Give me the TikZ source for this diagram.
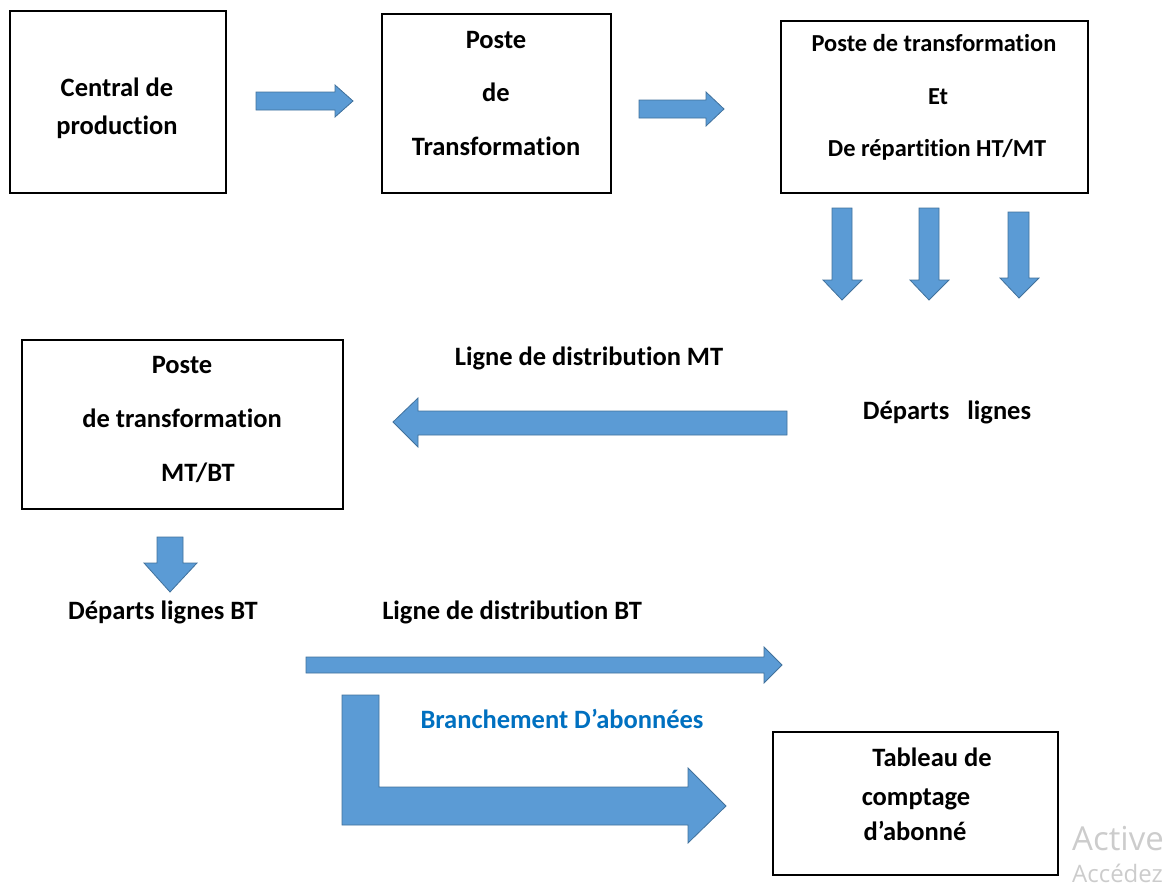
\documentclass[tikz,border=0pt]{standalone}
\usepackage{fontspec}
\setmainfont{Carlito}[Ligatures=NoCommon]
\newfontfamily\wmfont{Open Sans}
\definecolor{arrfill}{HTML}{5B9BD5}
\definecolor{arrline}{HTML}{41719C}
\definecolor{bluetxt}{HTML}{0070C0}
\definecolor{wmgray}{HTML}{CCCCCC}
\begin{document}
\begin{tikzpicture}[x=1pt,y=-1pt,
  box/.style={draw=black,line width=1.2pt},
  lbl/.style={font=\fontsize{26.5}{27}\selectfont\bfseries,inner sep=0pt,anchor=base},
  lbs/.style={font=\fontsize{24.4}{25}\selectfont\bfseries,inner sep=0pt,anchor=base},
  blk/.style={fill=arrfill,draw=arrline,line width=0.8pt,line join=miter}]
\useasboundingbox (0,0) rectangle (1164,886);
% boxes
\node[box,minimum width=216pt,minimum height=182pt,inner sep=0pt] (b1) at (118,102) {};
\node[box,minimum width=229pt,minimum height=179pt,inner sep=0pt] (b2) at (496.5,103.5) {};
\node[box,minimum width=307pt,minimum height=172pt,inner sep=0pt] (b3) at (934.5,107) {};
\node[box,minimum width=321pt,minimum height=169pt,inner sep=0pt] (b4) at (182.5,424.5) {};
\node[box,minimum width=285pt,minimum height=143pt,inner sep=0pt] (b5) at (915.5,803.5) {};
% texts
\node[lbl] (t1a) at (117,96) {Central de};
\node[lbl] (t1b) at (117,134) {production};
\node[lbl] (t2a) at (496,48) {Poste};
\node[lbl] (t2b) at (496,101) {de};
\node[lbl] (t2c) at (496,155) {Transformation};
\node[lbs] (t3a) at (934,51) {Poste de transformation};
\node[lbs] (t3b) at (938,104) {Et};
\node[lbs] (t3c) at (937,156) {De répartition HT/MT};
\node[lbl] (tl1) at (589,365) {Ligne de distribution MT};
\node[lbl] (tdep) at (947,419) {Départs\hspace{18pt}lignes};
\node[lbl] (t4a) at (182,373) {Poste};
\node[lbl] (t4b) at (182,427) {de transformation};
\node[lbl] (t4c) at (198,481) {MT/BT};
\node[lbl] (tdbt) at (163,619) {Départs lignes BT};
\node[lbl] (tl2) at (512,619) {Ligne de distribution BT};
\node[lbl,text=bluetxt] (tbr) at (562,728) {Branchement D’abonnées};
\node[lbl] (t5a) at (932,766) {Tableau de};
\node[lbl] (t5b) at (916,805) {comptage};
\node[lbl] (t5c) at (915,840) {d’abonné};
% watermark
\node[anchor=base west,inner sep=0pt,text=wmgray,font=\wmfont\fontsize{33}{33}\selectfont] (wm1) at (1072,850) {Active};
\node[anchor=base west,inner sep=0pt,text=wmgray,font=\wmfont\fontsize{24}{24}\selectfont] (wm2) at (1072,882) {Accédez};
% block arrows
% right arrow 1
\draw[blk] (256,92) -- (335,92) -- (335,85) -- (353,101) -- (335,117) -- (335,110) -- (256,110) -- cycle;
% right arrow 2
\draw[blk] (639,100) -- (706,100) -- (706,92) -- (724,109) -- (706,126) -- (706,118) -- (639,118) -- cycle;
% down arrows
\draw[blk] (832,208) -- (852,208) -- (852,280) -- (862,280) -- (842,300) -- (823,280) -- (832,280) -- cycle;
\draw[blk] (919,208) -- (939,208) -- (939,280) -- (949,280) -- (929,300) -- (910,280) -- (919,280) -- cycle;
\draw[blk] (1008,212) -- (1029,212) -- (1029,278) -- (1039,278) -- (1019,298) -- (1000,278) -- (1008,278) -- cycle;
% left arrow
\draw[blk] (787,411) -- (418,411) -- (418,398) -- (393,422) -- (418,447) -- (418,435) -- (787,435) -- cycle;
% small down arrow
\draw[blk] (157,537) -- (183,537) -- (183,563) -- (197,563) -- (170,592) -- (144,563) -- (157,563) -- cycle;
% long right arrow
\draw[blk] (306,657) -- (764,657) -- (764,647) -- (782,665) -- (764,683) -- (764,673) -- (306,673) -- cycle;
% bent arrow
\draw[blk] (342,695) -- (379,695) -- (379,787) -- (688,787) -- (688,768) -- (726,806) -- (688,843) -- (688,825) -- (342,825) -- cycle;
\end{tikzpicture}
\end{document}
